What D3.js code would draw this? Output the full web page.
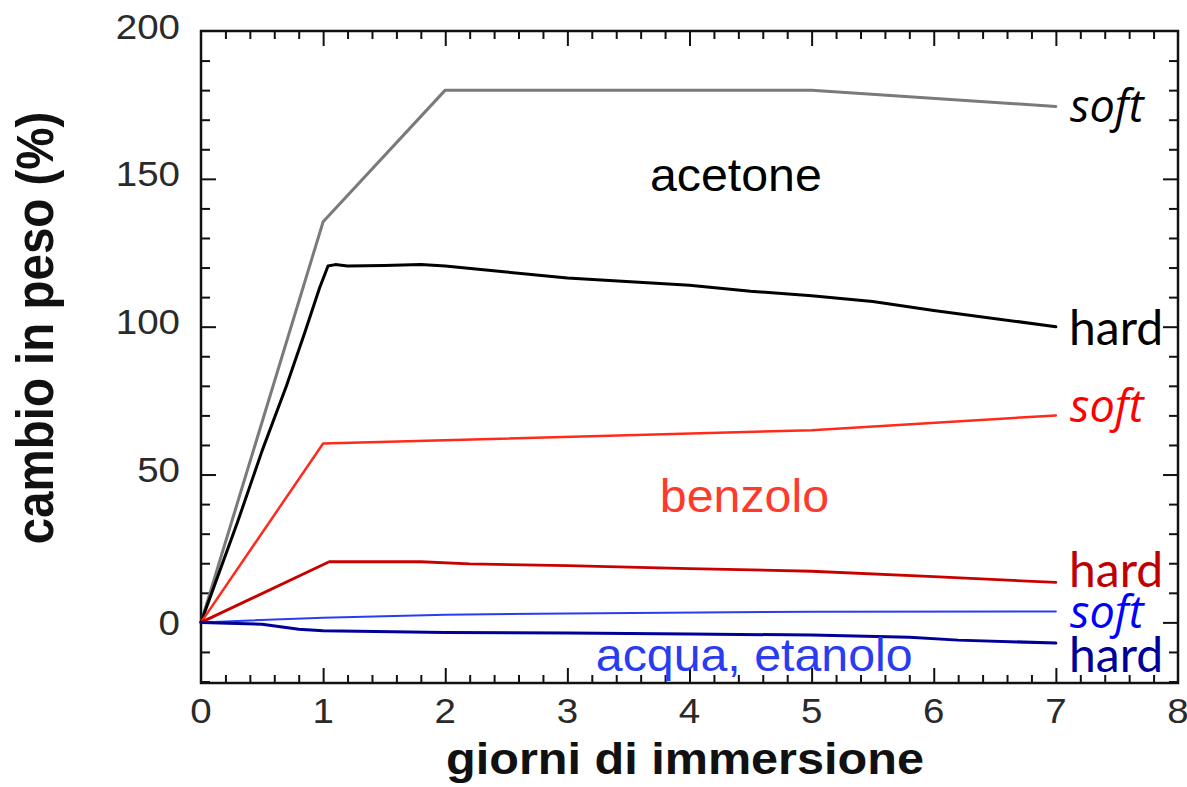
<!DOCTYPE html>
<html>
<head>
<meta charset="utf-8">
<script src="https://cdn.jsdelivr.net/npm/d3@7/dist/d3.min.js"></script>
<style>
  html, body { margin: 0; padding: 0; background: #fff; }
  svg { display: block; }
</style>
</head>
<body>
<svg id="chart" width="1187" height="787"></svg>
<script>
// Weight change (%) vs. days of immersion, soft and hard variants per solvent
const xTicks = [0, 1, 2, 3, 4, 5, 6, 7, 8];
const yTicks = [0, 50, 100, 150, 200];

const acetoneSoftDays = [0, 1, 2, 5, 7];
const acetoneSoft     = [0, 135.5, 180, 180, 174.5];

const acetoneHardDays = [0, 0.3, 0.5, 0.7, 0.85, 0.97, 1.04, 1.1, 1.2, 1.5, 1.8, 2.0, 2.5, 3.0, 4.0, 4.5, 5.0, 5.5, 6.0, 7.0];
const acetoneHard     = [0, 34, 58, 80, 98, 113, 120.5, 121, 120.5, 120.7, 121, 120.5, 118.5, 116.5, 114, 112, 110.5, 108.5, 105.5, 100];

const benzoloSoftDays = [0, 1, 5, 7];
const benzoloSoft     = [0, 60.5, 65, 70];

const benzoloHardDays = [0, 1.05, 1.8, 2.2, 3, 4, 5, 6, 7];
const benzoloHard     = [0, 20.5, 20.5, 19.8, 19.2, 18.2, 17.3, 15.5, 13.5];

const acquaSoftDays = [0, 1, 2, 3, 5, 7];
const acquaSoft     = [0, 1.6, 2.6, 3.0, 3.6, 3.7];

const acquaHardDays = [0, 0.5, 0.8, 1, 2, 3, 4, 5, 5.8, 6.2, 7];
const acquaHard     = [0, -0.6, -2.3, -2.8, -3.4, -3.6, -3.9, -4.3, -5.0, -6.0, -7.0];

const series = [
  { days: acetoneSoftDays, vals: acetoneSoft, color: "#7a7a7a", width: 3 },
  { days: acetoneHardDays, vals: acetoneHard, color: "#000000", width: 3 },
  { days: benzoloSoftDays, vals: benzoloSoft, color: "#ff2a1a", width: 2.5 },
  { days: benzoloHardDays, vals: benzoloHard, color: "#c80000", width: 2.8 },
  { days: acquaSoftDays, vals: acquaSoft, color: "#2a3cf0", width: 2 },
  { days: acquaHardDays, vals: acquaHard, color: "#000099", width: 3 }
];

const endLabels = [
  { text: "soft", value: 174.5, color: "#000000", italic: true },
  { text: "hard", value: 100, color: "#000000", italic: false },
  { text: "soft", value: 70, color: "#ff0000", italic: true },
  { text: "hard", value: 13.5, color: "#c00000", italic: false },
  { text: "soft", value: 3.7, color: "#0000ff", italic: true },
  { text: "hard", value: -7, color: "#000099", italic: false }
];

const solventLabels = [
  { text: "acetone", day: 4.38, value: 146, color: "#000000" },
  { text: "benzolo", day: 4.45, value: 37.3, color: "#ff3a2a" },
  { text: "acqua, etanolo", day: 4.53, value: -16.6, color: "#2a3cf0" }
];

const svg = d3.select("#chart");
const plotLeft = 201, plotRight = 1178, plotTop = 31, plotBottom = 683;

const x = d3.scaleLinear().domain([0, 8]).range([plotLeft, plotRight]);
const y = d3.scaleLinear().domain([-20.5, 200]).range([plotBottom, plotTop]);

// Ticks on all four sides, pointing inward
const majorLen = 15, minorLen = 8;
const xMinor = d3.range(0, 8.0001, 0.2).filter(v => Math.abs(v - Math.round(v)) > 1e-6);
const yMinor = d3.range(-20, 200.0001, 10).filter(v => Math.abs(v % 50) > 1e-6);
const yMajorAll = [0, 50, 100, 150];

const axes = svg.append("g");

function tickGroup(axis, tx, ty) {
  axes.append("g").attr("transform", `translate(${tx},${ty})`)
    .call(axis)
    .call(g => g.select(".domain").remove());
}

tickGroup(d3.axisTop(x).tickValues(xTicks.slice(1, -1)).tickSize(majorLen).tickFormat(""), 0, plotBottom);
tickGroup(d3.axisTop(x).tickValues(xMinor).tickSize(minorLen).tickFormat(""), 0, plotBottom);
tickGroup(d3.axisBottom(x).tickValues(xTicks.slice(1, -1)).tickSize(majorLen).tickFormat(""), 0, plotTop);
tickGroup(d3.axisBottom(x).tickValues(xMinor).tickSize(minorLen).tickFormat(""), 0, plotTop);
tickGroup(d3.axisRight(y).tickValues(yMajorAll).tickSize(majorLen).tickFormat(""), plotLeft, 0);
tickGroup(d3.axisRight(y).tickValues(yMinor).tickSize(minorLen + 1).tickFormat(""), plotLeft, 0);
tickGroup(d3.axisLeft(y).tickValues(yMajorAll).tickSize(majorLen).tickFormat(""), plotRight, 0);
tickGroup(d3.axisLeft(y).tickValues(yMinor).tickSize(minorLen + 1).tickFormat(""), plotRight, 0);

svg.selectAll(".tick line").attr("stroke", "#111").attr("stroke-width", 2);

svg.append("rect")
  .attr("x", plotLeft).attr("y", plotTop)
  .attr("width", plotRight - plotLeft).attr("height", plotBottom - plotTop)
  .attr("fill", "none").attr("stroke", "#111").attr("stroke-width", 2.5);

// The figure's own lettering is slightly wide, so it is stretched horizontally
const tickFont = "'Liberation Sans', Arial, sans-serif";
const stretch = 1.1;

svg.append("g").selectAll("text").data(xTicks).join("text")
  .attr("transform", d => `translate(${x(d)},723) scale(${stretch},1)`)
  .attr("text-anchor", "middle")
  .attr("font-family", tickFont).attr("font-size", 35).attr("fill", "#2a2a2a")
  .text(d => d);

svg.append("g").selectAll("text").data(yTicks).join("text")
  .attr("transform", d => `translate(180,${y(d) + (d === 0 ? 12.5 : 7.5)}) scale(${stretch},1)`)
  .attr("text-anchor", "end")
  .attr("font-family", tickFont).attr("font-size", 35).attr("fill", "#2a2a2a")
  .text(d => d);

// Axis titles
svg.append("text")
  .attr("transform", `translate(685,774) scale(1.08,1)`)
  .attr("text-anchor", "middle")
  .attr("font-family", tickFont).attr("font-weight", "bold").attr("font-size", 45)
  .attr("fill", "#111")
  .text("giorni di immersione");

svg.append("text")
  .attr("transform", "translate(53,328) scale(1.08,1) rotate(-90)")
  .attr("text-anchor", "middle")
  .attr("font-family", tickFont).attr("font-weight", "bold").attr("font-size", 47.5)
  .attr("fill", "#111")
  .text("cambio in peso (%)");

// Curves, straight segments between readings
const line = d3.line().x(d => x(d[0])).y(d => y(d[1]));
svg.append("g").attr("fill", "none").attr("stroke-linejoin", "round").attr("stroke-linecap", "round")
  .selectAll("path").data(series).join("path")
  .attr("d", s => line(s.days.map((d, i) => [d, s.vals[i]])))
  .attr("stroke", s => s.color)
  .attr("stroke-width", s => s.width);

// Solvent names inside the plot
svg.append("g").selectAll("text").data(solventLabels).join("text")
  .attr("transform", d => `translate(${x(d.day)},${y(d.value)}) scale(1.05,1)`)
  .attr("text-anchor", "middle")
  .attr("font-family", tickFont).attr("font-size", 46)
  .attr("fill", d => d.color)
  .text(d => d.text);

// soft / hard labels beside the curve ends
const labelDy = [15.5, 18, 7, 4.5, 16.5, 29];
svg.append("g").selectAll("text").data(endLabels).join("text")
  .attr("x", d => d.italic ? 1070 : 1069)
  .attr("y", (d, i) => y(d.value) + labelDy[i])
  .attr("font-family", d => d.italic ? "'Open Sans', 'Noto Sans', sans-serif" : "Lato, 'Open Sans', sans-serif")
  .attr("font-size", d => d.italic ? 45 : 48)
  .attr("font-style", d => d.italic ? "italic" : "normal")
  .attr("fill", d => d.color)
  .text(d => d.text);
</script>
</body>
</html>
